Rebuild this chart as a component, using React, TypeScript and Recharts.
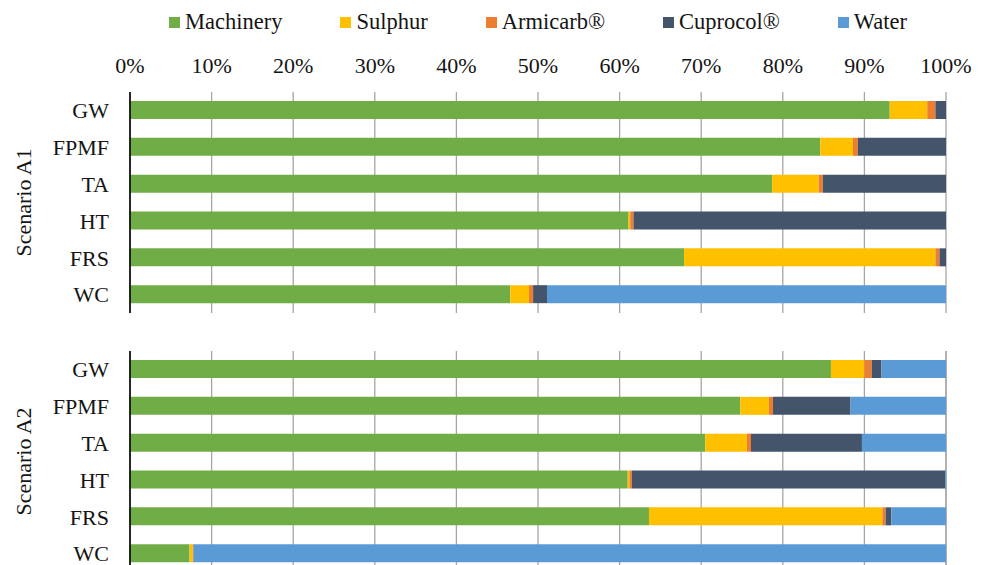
import { Bar, BarChart, CartesianGrid, XAxis, YAxis } from "recharts";

const categories = ["GW", "FPMF", "TA", "HT", "FRS", "WC"];

const series = ["Machinery", "Sulphur", "Armicarb®", "Cuprocol®", "Water"];
const colors = ["#70AD47", "#FFC000", "#ED7D31", "#44546A", "#5B9BD5"];

// Scenario A1, % share per category
const a1Machinery = [93.1, 84.6, 78.7, 61.1, 67.9, 46.6];
const a1Sulphur = [4.6, 4.0, 5.7, 0.2, 30.8, 2.3];
const a1Armicarb = [1.0, 0.6, 0.5, 0.4, 0.5, 0.5];
const a1Cuprocol = [1.3, 10.8, 15.1, 38.3, 0.8, 1.7];
const a1Water = [0, 0, 0, 0, 0, 48.9];

// Scenario A2
const a2Machinery = [85.9, 74.8, 70.5, 61.0, 63.6, 7.3];
const a2Sulphur = [4.1, 3.5, 5.1, 0.2, 28.6, 0.4];
const a2Armicarb = [0.9, 0.5, 0.5, 0.3, 0.4, 0.05];
const a2Cuprocol = [1.2, 9.5, 13.6, 38.4, 0.7, 0.05];
const a2Water = [7.9, 11.7, 10.3, 0.1, 6.7, 92.2];

const xTicks = [0, 10, 20, 30, 40, 50, 60, 70, 80, 90, 100];

const font = "'Liberation Serif', 'Times New Roman', serif";
const ink = "#141414";
const grid = "#A6A6A6";

function build(cols: number[][]) {
  return categories.map((name, i) => {
    const row: Record<string, string | number> = { name };
    series.forEach((s, k) => {
      row[s] = cols[k][i];
    });
    return row;
  });
}

const dataA1 = build([a1Machinery, a1Sulphur, a1Armicarb, a1Cuprocol, a1Water]);
const dataA2 = build([a2Machinery, a2Sulphur, a2Armicarb, a2Cuprocol, a2Water]);

function ScenarioLabel(text: string) {
  return (props: any) => {
    const vb = props.viewBox || { x: 0, y: 0, width: 130, height: 220 };
    const cx = vb.x + 23;
    const cy = vb.y + vb.height / 2;
    return (
      <text
        x={cx}
        y={cy}
        transform={`rotate(-90, ${cx}, ${cy})`}
        textAnchor="middle"
        dominantBaseline="central"
        fontSize={22}
        fontFamily={font}
        fill={ink}
      >
        {text}
      </text>
    );
  };
}

function Panel({
  data,
  label,
  showTop,
  height,
  top,
}: {
  data: Record<string, string | number>[];
  label: string;
  showTop: boolean;
  height: number;
  top: number;
}) {
  return (
    <BarChart
      layout="vertical"
      width={987}
      height={height}
      data={data}
      margin={{ top, right: 41, bottom: 0, left: 0 }}
      barSize={18}
    >
      <CartesianGrid horizontal={false} stroke={grid} strokeWidth={1.3} />
      <XAxis
        type="number"
        domain={[0, 100]}
        ticks={xTicks}
        orientation="top"
        hide={!showTop}
        height={40}
        tickFormatter={(v: number) => `${v}%`}
        axisLine={false}
        tickLine={false}
        tickSize={6}
        tickMargin={13}
        tick={{ fontSize: 22, fontFamily: font, fill: ink }}
        interval={0}
      />
      <YAxis
        type="category"
        dataKey="name"
        width={130}
        axisLine={{ stroke: "#000", strokeWidth: 1.6 }}
        tickLine={false}
        tickSize={6}
        tickMargin={15}
        tick={{ fontSize: 22, fontFamily: font, fill: ink }}
        interval={0}
        label={{ content: ScenarioLabel(label) }}
      />
      {series.map((s, k) => (
        <Bar key={s} dataKey={s} stackId="a" fill={colors[k]} isAnimationActive={false} />
      ))}
    </BarChart>
  );
}

export default function App() {
  return (
    <div
      style={{
        position: "relative",
        width: 987,
        height: 565,
        overflow: "hidden",
        background: "#fff",
        fontFamily: font,
      }}
    >
      <style>{`body{margin:0}`}</style>
      <div
        style={{
          position: "absolute",
          left: 120,
          width: 836,
          top: 8,
          display: "flex",
          justifyContent: "center",
          gap: 58,
          fontSize: 22.5,
          color: ink,
          lineHeight: "28px",
        }}
      >
        {series.map((s, k) => (
          <div key={s} style={{ display: "flex", alignItems: "center" }}>
            <span
              style={{
                width: 11,
                height: 11,
                background: colors[k],
                marginRight: 5,
                display: "inline-block",
              }}
            />
            <span>{s}</span>
          </div>
        ))}
      </div>
      <div style={{ position: "absolute", left: 0, top: 0 }}>
        <Panel data={dataA1} label="Scenario A1" showTop height={313} top={52} />
      </div>
      <div style={{ position: "absolute", left: 0, top: 330 }}>
        <Panel data={dataA2} label="Scenario A2" showTop={false} height={242} top={21} />
      </div>
    </div>
  );
}
